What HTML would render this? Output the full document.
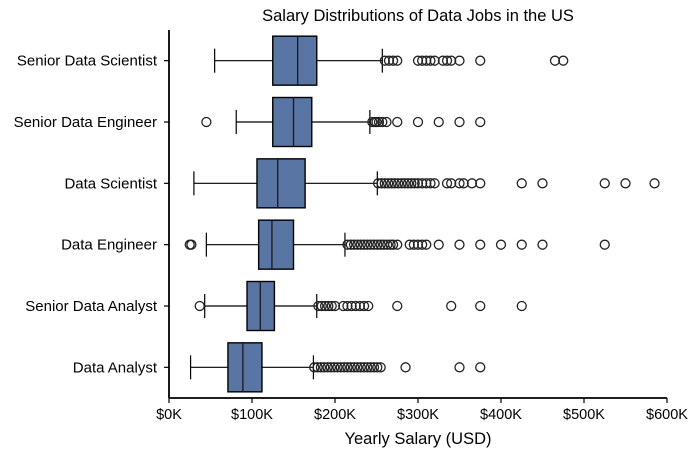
<!DOCTYPE html>
<html><head><meta charset="utf-8"><style>
html,body{margin:0;padding:0;background:#fff;}
svg text{font-family:"Liberation Sans",Arial,sans-serif;fill:#000;}
</style></head><body>
<svg id="chart" width="697" height="457" viewBox="0 0 697 457" xmlns="http://www.w3.org/2000/svg">
<text x="418" y="21" font-size="16.5" text-anchor="middle">Salary Distributions of Data Jobs in the US</text>
<g id="plot"></g>
<text x="418" y="444" font-size="16.5" text-anchor="middle">Yearly Salary (USD)</text>
</svg>
<script>
const categories = ["Senior Data Scientist","Senior Data Engineer","Data Scientist","Data Engineer","Senior Data Analyst","Data Analyst"];
const whiskerLow = [55,81,30,45,43,26];
const q1 = [125,125,106,108,94,71];
const medians = [155,150,131,124,110,89];
const q3 = [178,172,164,150,127,112];
const whiskerHigh = [257,242,251,212,178,174];
const outliers = [
 [260,265,270,275,300,305,310,315,320,330,335,340,350,375,465,475],
 [45,245,248,250,253,257,262,275,300,325,350,375],
 [252,256,260,264,268,272,276,280,284,288,292,296,300,305,310,315,320,335,340,350,355,365,375,425,450,525,550,585],
 [25,27,215,219,223,227,231,235,239,243,247,251,255,259,263,267,270,275,290,295,300,305,310,325,350,375,400,425,450,525],
 [37,180,184,188,192,196,200,210,215,220,225,230,235,240,275,340,375,425],
 [175,179,183,187,191,195,199,203,207,211,215,219,223,227,231,235,239,243,247,251,255,285,350,375]
];
const xTicks = [0,100,200,300,400,500,600];
const xTickLabels = ["$0K","$100K","$200K","$300K","$400K","$500K","$600K"];

const X0=169, X1=667, XMAX=600, TOP=30, BOTTOM=398;
const xScale = v => X0 + (v/XMAX)*(X1-X0);
const band = (BOTTOM-TOP)/categories.length;
const yScale = i => TOP + band*(i+0.5);
const NS="http://www.w3.org/2000/svg";
const g=document.getElementById('plot');
function mk(tag,attrs){const e=document.createElementNS(NS,tag);for(const k in attrs)e.setAttribute(k,attrs[k]);g.appendChild(e);return e;}

categories.forEach((c,i)=>{
  const y=yScale(i), h=49;
  let e=mk('line',{x1:xScale(whiskerLow[i]),x2:xScale(q1[i]),y1:y,y2:y,stroke:'#000','stroke-width':1.2});
  
  
  e=mk('line',{x1:xScale(q3[i]),x2:xScale(whiskerHigh[i]),y1:y,y2:y,stroke:'#000','stroke-width':1.2});
  
  
  [whiskerLow[i],whiskerHigh[i]].forEach(v=>{
    const c2=mk('line',{x1:xScale(v),x2:xScale(v),y1:y-12,y2:y+12,stroke:'#000','stroke-width':1.2});
    
    
  });
  e=mk('rect',{x:xScale(q1[i]),y:y-h/2,width:xScale(q3[i])-xScale(q1[i]),height:h,fill:'#5975a4',stroke:'#000','stroke-width':1.4});
  
  
  e=mk('line',{x1:xScale(medians[i]),x2:xScale(medians[i]),y1:y-h/2,y2:y+h/2,stroke:'#1a1a1a','stroke-width':1.3});
  
  
  outliers[i].forEach(v=>{
    const o=mk('circle',{cx:xScale(v),cy:y,r:4.5,fill:'none',stroke:'#222','stroke-width':1.3});
    
    
  });
  const t=mk('line',{x1:X0-5,x2:X0,y1:y,y2:y,stroke:'#000','stroke-width':1.2});
  
  
  const l=mk('text',{x:157,y:y+5,'font-size':15,'text-anchor':'end'});
  l.textContent=c;
  
  
});
let ax=mk('line',{x1:X0,x2:X0,y1:TOP,y2:BOTTOM,stroke:'#000','stroke-width':1.8});


ax=mk('line',{x1:X0,x2:X1,y1:BOTTOM,y2:BOTTOM,stroke:'#000','stroke-width':1.8});


xTicks.forEach((v,k)=>{
  const t=mk('line',{x1:xScale(v),x2:xScale(v),y1:BOTTOM,y2:BOTTOM+5,stroke:'#000','stroke-width':1.2});
  
  
  const l=mk('text',{x:xScale(v),y:419,'font-size':14.5,'text-anchor':'middle'});
  l.textContent=xTickLabels[k];
  
  
});
</script>
</body></html>
